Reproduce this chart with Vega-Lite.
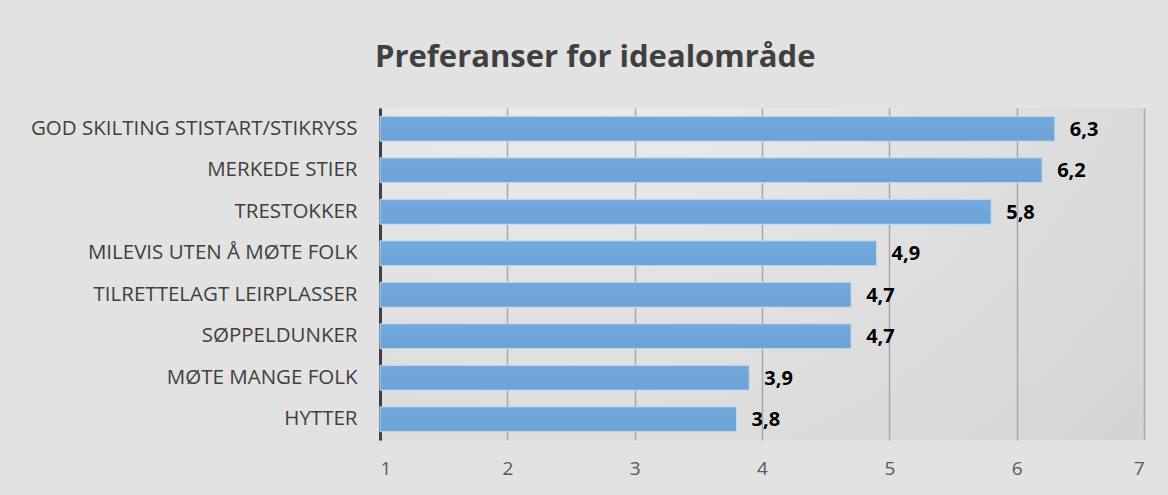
{
  "$schema": "https://vega.github.io/schema/vega-lite/v6.json",
  "autosize": {"type": "none"},
  "width": 764,
  "height": 332,
  "padding": {"left": 380, "top": 108, "right": 24, "bottom": 55},
  "background": "#e2e2e2",
  "title": {
    "text": "Preferanser for idealområde",
    "anchor": "start",
    "frame": "group",
    "dx": -5,
    "offset": 34,
    "font": "Open Sans",
    "fontSize": 31,
    "fontWeight": "bold",
    "color": "#404040"
  },
  "config": {
    "view": {"stroke": null, "fill": {"gradient": "radial", "x1": 0.25, "y1": 0.0, "r1": 0.0, "x2": 0.25, "y2": 0.0, "r2": 1.1, "stops": [{"offset": 0, "color": "#f2f2f2"}, {"offset": 1, "color": "#d2d2d2"}]}},
    "locale": {"number": {"decimal": ",", "thousands": " ", "grouping": [3], "currency": ["", " kr"]}}
  },
  "data": {
    "values": [
      {"kategori": "GOD SKILTING STISTART/STIKRYSS", "verdi": 6.3},
      {"kategori": "MERKEDE STIER", "verdi": 6.2},
      {"kategori": "TRESTOKKER", "verdi": 5.8},
      {"kategori": "MILEVIS UTEN Å MØTE FOLK", "verdi": 4.9},
      {"kategori": "TILRETTELAGT LEIRPLASSER", "verdi": 4.7},
      {"kategori": "SØPPELDUNKER", "verdi": 4.7},
      {"kategori": "MØTE MANGE FOLK", "verdi": 3.9},
      {"kategori": "HYTTER", "verdi": 3.8}
    ]
  },
  "encoding": {
    "y": {
      "field": "kategori",
      "type": "nominal",
      "sort": null,
      "scale": {"paddingInner": 0.4, "paddingOuter": 0.2},
      "axis": {
        "title": null,
        "ticks": false,
        "labelPadding": 23,
        "labelFont": "Open Sans",
        "labelFontSize": 20.5,
        "labelColor": "#404040",
        "labelLimit": 400,
        "domainColor": "#404040",
        "domainWidth": 3,
        "grid": false
      }
    },
    "x": {
      "field": "verdi",
      "type": "quantitative",
      "scale": {"domain": [1, 7], "zero": false, "nice": false},
      "axis": {
        "title": null,
        "values": [1, 2, 3, 4, 5, 6, 7],
        "format": "d",
        "domain": false,
        "ticks": false,
        "labelPadding": 19,
        "labelFont": "Open Sans",
        "labelFontSize": 19,
        "labelColor": "#595959",
        "gridColor": "#a8a8a8",
        "gridWidth": 1.5
      }
    }
  },
  "layer": [
    {
      "mark": {
        "type": "bar",
        "fill": {"gradient": "linear", "x1": 0, "y1": 0, "x2": 0, "y2": 1, "stops": [{"offset": 0, "color": "#74a9dc"}, {"offset": 1, "color": "#6ba3d8"}]},
        "stroke": "#c5dcf0",
        "strokeWidth": 1
      },
      "encoding": {"x2": {"datum": 1}}
    },
    {
      "mark": {
        "type": "text",
        "align": "left",
        "baseline": "middle",
        "dx": 15,
        "dy": 1,
        "font": "Open Sans",
        "fontSize": 20,
        "fontWeight": "bold",
        "color": "#000000"
      },
      "encoding": {"text": {"field": "verdi", "type": "quantitative", "format": ".1f"}}
    }
  ]
}
